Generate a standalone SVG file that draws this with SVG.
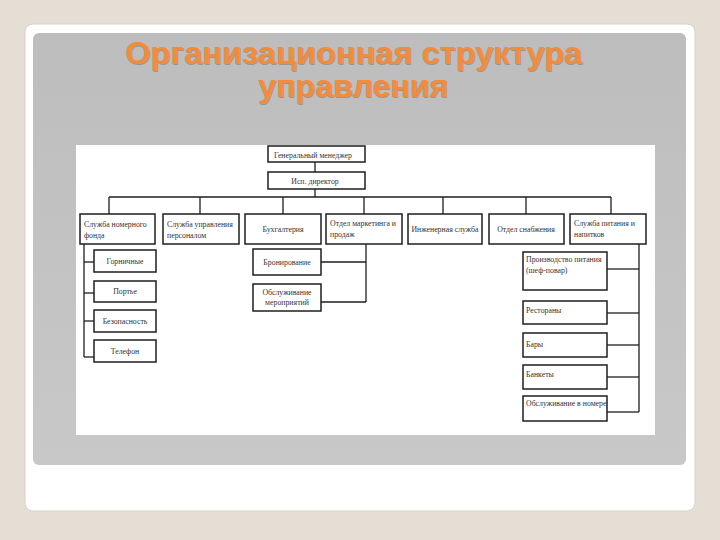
<svg xmlns="http://www.w3.org/2000/svg" width="720" height="540" viewBox="0 0 720 540">
<defs>
<linearGradient id="panel" x1="0" y1="0" x2="0" y2="1">
<stop offset="0" stop-color="#bdbdbd"/>
<stop offset="1" stop-color="#c8c8c8"/>
</linearGradient>
<style>
.box{fill:#ffffff;stroke:#1e1e1e;stroke-width:1.5}
.t{font-family:"Liberation Serif","Times New Roman",serif;font-size:7.8px;fill:#333333}
.c{text-anchor:middle}
.ln{stroke:#1e1e1e;stroke-width:1.3;fill:none}
.title{font-family:"Liberation Sans",Arial,sans-serif;font-weight:bold;font-size:31px}
</style>
</defs>
<rect x="0" y="0" width="720" height="540" fill="#e4ded4"/>
<rect x="25" y="24" width="670" height="487" rx="8" fill="#ffffff" stroke="#d8d2c8" stroke-width="1"/>
<rect x="33" y="33" width="653" height="432" rx="6" fill="url(#panel)"/>
<g id="title">
<text class="title" x="126" y="65" fill="#8a7a6c" opacity="0.6" textLength="457" lengthAdjust="spacingAndGlyphs">Организационная структура</text>
<text class="title" x="259" y="98" fill="#8a7a6c" opacity="0.6" textLength="190" lengthAdjust="spacingAndGlyphs">управления</text>
<text class="title" x="125" y="64" fill="#f28c3c" textLength="457" lengthAdjust="spacingAndGlyphs">Организационная структура</text>
<text class="title" x="258" y="97" fill="#f28c3c" textLength="190" lengthAdjust="spacingAndGlyphs">управления</text>
</g>
<rect x="76" y="145" width="579" height="290" fill="#ffffff"/>
<g id="connectors">
<line class="ln" x1="315" y1="162" x2="315" y2="172"/>
<line class="ln" x1="315" y1="189" x2="315" y2="197"/>
<line class="ln" x1="109" y1="197" x2="611" y2="197"/>
<line class="ln" x1="109" y1="197" x2="109" y2="214"/>
<line class="ln" x1="200" y1="197" x2="200" y2="214"/>
<line class="ln" x1="283" y1="197" x2="283" y2="214"/>
<line class="ln" x1="364" y1="197" x2="364" y2="214"/>
<line class="ln" x1="443" y1="197" x2="443" y2="214"/>
<line class="ln" x1="526" y1="197" x2="526" y2="214"/>
<line class="ln" x1="611" y1="197" x2="611" y2="214"/>
<line class="ln" x1="84" y1="244" x2="84" y2="357"/>
<line class="ln" x1="84" y1="262" x2="94" y2="262"/>
<line class="ln" x1="84" y1="293" x2="94" y2="293"/>
<line class="ln" x1="84" y1="321" x2="94" y2="321"/>
<line class="ln" x1="84" y1="357" x2="94" y2="357"/>
<line class="ln" x1="366" y1="244" x2="366" y2="302"/>
<line class="ln" x1="321" y1="262" x2="366" y2="262"/>
<line class="ln" x1="321" y1="302" x2="366" y2="302"/>
<line class="ln" x1="639" y1="244" x2="639" y2="412"/>
<line class="ln" x1="607" y1="269" x2="639" y2="269"/>
<line class="ln" x1="607" y1="313" x2="639" y2="313"/>
<line class="ln" x1="607" y1="345" x2="639" y2="345"/>
<line class="ln" x1="607" y1="377" x2="639" y2="377"/>
<line class="ln" x1="607" y1="412" x2="639" y2="412"/>
</g>
<g id="gm"><rect class="box" x="268" y="146" width="97" height="16"/><text class="t" x="274" y="157.5">Генеральный менеджер</text></g>
<g id="dir"><rect class="box" x="268" y="172" width="97" height="17"/><text class="t c" x="315" y="184">Исп. директор</text></g>
<g id="n1"><rect class="box" x="80" y="214" width="75" height="30"/><text class="t" x="84" y="227">Служба номерного</text><text class="t" x="84" y="238">фонда</text></g>
<g id="n2"><rect class="box" x="163" y="214" width="76" height="30"/><text class="t" x="167" y="227">Служба управления</text><text class="t" x="167" y="238">персоналом</text></g>
<g id="n3"><rect class="box" x="245" y="214" width="76" height="30"/><text class="t c" x="283" y="232">Бухгалтерия</text></g>
<g id="n4"><rect class="box" x="326" y="214" width="76" height="30"/><text class="t" x="330" y="226">Отдел маркетинга и</text><text class="t" x="330" y="237">продаж</text></g>
<g id="n5"><rect class="box" x="408" y="214" width="74" height="30"/><text class="t c" x="445" y="232">Инженерная служба</text></g>
<g id="n6"><rect class="box" x="489" y="214" width="75" height="30"/><text class="t c" x="526" y="232">Отдел снабжения</text></g>
<g id="n7"><rect class="box" x="570" y="214" width="76" height="30"/><text class="t" x="574" y="226">Служба питания и</text><text class="t" x="574" y="237">напитков</text></g>
<g id="s1"><rect class="box" x="94" y="250" width="62" height="22"/><text class="t c" x="125" y="264">Горничные</text></g>
<g id="s2"><rect class="box" x="94" y="281" width="62" height="21"/><text class="t c" x="125" y="294">Портье</text></g>
<g id="s3"><rect class="box" x="94" y="310" width="62" height="22"/><text class="t c" x="125" y="324">Безопасность</text></g>
<g id="s4"><rect class="box" x="94" y="340" width="62" height="22"/><text class="t c" x="125" y="354">Телефон</text></g>
<g id="m1"><rect class="box" x="253" y="249" width="68" height="26"/><text class="t c" x="287" y="265">Бронирование</text></g>
<g id="m2"><rect class="box" x="253" y="284" width="68" height="27"/><text class="t c" x="287" y="295">Обслуживание</text><text class="t c" x="287" y="305">мероприятий</text></g>
<g id="f1"><rect class="box" x="523" y="252" width="84" height="38"/><text class="t" x="526" y="262">Производство питания</text><text class="t" x="526" y="273">(шеф-повар)</text></g>
<g id="f2"><rect class="box" x="523" y="301" width="84" height="23"/><text class="t" x="526" y="313">Рестораны</text></g>
<g id="f3"><rect class="box" x="523" y="333" width="84" height="24"/><text class="t" x="526" y="347">Бары</text></g>
<g id="f4"><rect class="box" x="523" y="365" width="84" height="24"/><text class="t" x="526" y="377">Банкеты</text></g>
<g id="f5"><rect class="box" x="523" y="396" width="84" height="25"/><text class="t" x="526" y="406">Обслуживание в номере</text></g>
</svg>
